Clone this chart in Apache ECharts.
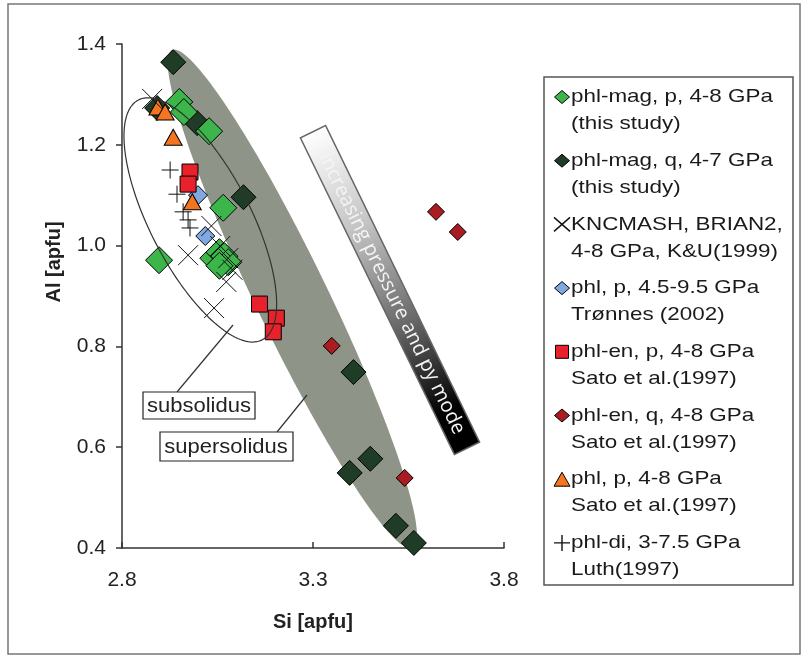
<!DOCTYPE html>
<html>
<head>
<meta charset="utf-8">
<script src="https://cdn.jsdelivr.net/npm/echarts@6/dist/echarts.min.js"></script>
<style>
html, body { margin: 0; padding: 0; background: #fff; }
#main { width: 807px; height: 660px; }
</style>
</head>
<body>
<div id="main"></div>
<script>
// Si / Al pairs
var phlMagP = [[2.950, 1.285], [2.962, 1.265], [3.028, 1.227], [3.065, 1.075], [2.897, 0.971],
               [3.039, 0.975], [3.055, 0.987], [3.068, 0.979], [3.078, 0.967], [3.055, 0.960]];
var phlMagQ = [[2.934, 1.364], [2.997, 1.243], [2.892, 1.273], [3.118, 1.096], [3.406, 0.749],
               [3.450, 0.577], [3.396, 0.549], [3.517, 0.444], [3.564, 0.410]];
var kncmash = [[2.879, 1.291], [2.973, 0.981], [3.034, 1.039], [3.057, 0.999], [3.078, 0.975],
               [3.089, 0.952], [3.073, 0.928], [3.041, 0.876]];
var phlTronnes = [[2.999, 1.100], [3.018, 1.019]];
var phlEnP = [[2.978, 1.146], [2.973, 1.122], [3.160, 0.884], [3.204, 0.856], [3.196, 0.829]];
var phlEnQ = [[3.622, 1.067], [3.679, 1.027], [3.349, 0.801], [3.540, 0.539]];
var phlSato = [[2.894, 1.275], [2.913, 1.265], [2.934, 1.215], [2.984, 1.087]];
var phlDi = [[2.926, 1.150], [2.944, 1.102], [2.960, 1.067], [2.973, 1.051], [2.978, 1.035]];

var xTicks = [2.8, 3.3, 3.8];
var yTicks = [0.4, 0.6, 0.8, 1.0, 1.2, 1.4];

var legendLines = [
    ['phl-mag, p, 4-8 GPa', '(this study)'],
    ['phl-mag, q, 4-7 GPa', '(this study)'],
    ['KNCMASH, BRIAN2,', '4-8 GPa, K&U(1999)'],
    ['phl, p, 4.5-9.5 GPa', 'Trønnes (2002)'],
    ['phl-en, p, 4-8 GPa', 'Sato et al.(1997)'],
    ['phl-en, q, 4-8 GPa', 'Sato et al.(1997)'],
    ['phl, p, 4-8 GPa', 'Sato et al.(1997)'],
    ['phl-di, 3-7.5 GPa', 'Luth(1997)']
];

// field outlines: centre + two conjugate half axes (data units)
var superCenter = [3.246, 0.894], superU = [0.315, -0.494], superV = [0.085, 0.031];
var subCenter = [3.005, 1.051], subU = [0.162, -0.238], subV = [0.117, 0.0456];

var cGreen = '#3cb54a', cDark = '#1f3d26', cBlue = '#7fa9e0', cRed = '#e8212b',
    cBrick = '#a91c22', cOrange = '#f47521';

var X_PATH = 'path://M0,0L10,10M10,0L0,10';
var PLUS_PATH = 'path://M5,0L5,10M0,5L10,5';

var myChart = echarts.init(document.getElementById('main'));

function ellipse(c, u, v, style) {
    return function (params, api) {
        var pts = [];
        for (var i = 0; i < 160; i++) {
            var t = i / 160 * Math.PI * 2;
            pts.push(api.coord([c[0] + u[0] * Math.cos(t) + v[0] * Math.sin(t),
                                c[1] + u[1] * Math.cos(t) + v[1] * Math.sin(t)]));
        }
        return { type: 'polygon', shape: { points: pts }, style: style };
    };
}

function scatter(name, data, symbol, size, color, border) {
    return {
        name: name,
        type: 'scatter',
        data: data,
        symbol: symbol,
        symbolSize: size,
        z: 3,
        silent: true,
        itemStyle: { color: color, borderColor: border || '#000', borderWidth: 1, opacity: 1 }
    };
}

// legend drawn by hand so the icon sits on the first line
var legendIcons = [
    { t: 'diamond', c: cGreen }, { t: 'diamond', c: cDark }, { t: 'x' }, { t: 'diamond', c: cBlue },
    { t: 'square', c: cRed }, { t: 'diamond', c: cBrick }, { t: 'triangle', c: cOrange }, { t: 'plus' }
];
var legendGraphics = [{
    type: 'rect', shape: { x: 544, y: 77, width: 249, height: 508 },
    style: { fill: '#fff', stroke: '#555', lineWidth: 1.5 }, z: 10
}];
legendLines.forEach(function (lines, i) {
    var y = 97 + i * 63.7, cx = 562;
    var ic = legendIcons[i], shape;
    if (ic.t === 'diamond') {
        shape = { type: 'polygon', shape: { points: [[cx - 7.5, y], [cx, y - 6.5], [cx + 7.5, y], [cx, y + 6.5]] },
                  style: { fill: ic.c, stroke: '#000', lineWidth: 1 } };
    } else if (ic.t === 'square') {
        shape = { type: 'rect', shape: { x: cx - 6.5, y: y - 6.5, width: 13, height: 13 },
                  style: { fill: ic.c, stroke: '#000', lineWidth: 1 } };
    } else if (ic.t === 'triangle') {
        shape = { type: 'polygon', shape: { points: [[cx - 8, y + 7], [cx, y - 7], [cx + 8, y + 7]] },
                  style: { fill: ic.c, stroke: '#000', lineWidth: 1 } };
    } else if (ic.t === 'x') {
        shape = { type: 'polyline', shape: { points: [[cx - 8, y - 7], [cx + 8, y + 7], [cx, y], [cx + 8, y - 7], [cx - 8, y + 7]] },
                  style: { stroke: '#111', lineWidth: 1.4, fill: null } };
    } else {
        shape = { type: 'polyline', shape: { points: [[cx - 8, y], [cx + 8, y], [cx, y], [cx, y - 8], [cx, y + 8]] },
                  style: { stroke: '#111', lineWidth: 1.4, fill: null } };
    }
    shape.z = 11;
    legendGraphics.push(shape);
    lines.forEach(function (txt, k) {
        legendGraphics.push({
            type: 'text', x: 571, y: y + k * 27, scaleX: 1.18, z: 11,
            style: { text: txt, font: '19px "Liberation Sans", Arial', fill: '#1a1a1a', verticalAlign: 'middle' }
        });
    });
});

var option = {
    backgroundColor: '#fff',
    animation: false,
    grid: { left: 122, right: 303, top: 44, bottom: 112 },
    xAxis: {
        type: 'value', min: 2.8, max: 3.8, interval: 0.5,
        name: 'Si [apfu]', nameLocation: 'middle', nameGap: 64,
        nameTextStyle: { fontFamily: 'Liberation Sans', fontSize: 20, fontWeight: 'bold', color: '#222' },
        axisLine: { onZero: false, lineStyle: { color: '#333', width: 1.5 } },
        axisTick: { inside: true, length: 6, lineStyle: { color: '#333', width: 1.5 } },
        axisLabel: { margin: 22, fontFamily: 'Liberation Sans', fontSize: 21, color: '#222',
                     formatter: function (v) { return xTicks.indexOf(+v.toFixed(1)) >= 0 ? v.toFixed(1) : ''; } },
        splitLine: { show: false }
    },
    yAxis: {
        type: 'value', min: 0.4, max: 1.4, interval: 0.2,
        name: 'Al [apfu]', nameLocation: 'middle', nameGap: 58, nameRotate: 90,
        nameTextStyle: { fontFamily: 'Liberation Sans', fontSize: 20, fontWeight: 'bold', color: '#222',
                         padding: [0, 0, 0, 68] },
        axisLine: { show: true, onZero: false, lineStyle: { color: '#333', width: 1.5 } },
        axisTick: { show: true, length: 6, lineStyle: { color: '#333', width: 1.5 } },
        axisLabel: { margin: 16, fontFamily: 'Liberation Sans', fontSize: 21, color: '#222',
                     formatter: function (v) { return yTicks.indexOf(+v.toFixed(1)) >= 0 ? v.toFixed(1) : ''; } },
        splitLine: { show: false }
    },
    series: [
        {
            type: 'custom', z: 1, silent: true, clip: false,
            data: [superCenter],
            renderItem: ellipse(superCenter, superU, superV, { fill: '#8e9488', stroke: null })
        },
        scatter('phl-mag, q, 4-7 GPa (this study)', phlMagQ, 'diamond', 25, cDark),
        scatter('phl-mag, p, 4-8 GPa (this study)', phlMagP, 'diamond', 27, cGreen),
        scatter('phl, p, 4.5-9.5 GPa Trønnes (2002)', phlTronnes, 'diamond', 19, cBlue),
        scatter('phl-en, p, 4-8 GPa Sato et al.(1997)', phlEnP, 'rect', 16, cRed),
        scatter('phl-en, q, 4-8 GPa Sato et al.(1997)', phlEnQ, 'diamond', 17, cBrick),
        scatter('phl, p, 4-8 GPa Sato et al.(1997)', phlSato, 'triangle', [18, 16], cOrange),
        scatter('KNCMASH, BRIAN2, 4-8 GPa, K&U(1999)', kncmash, X_PATH, 20, 'rgba(0,0,0,0)', '#111'),
        scatter('phl-di, 3-7.5 GPa Luth(1997)', phlDi, PLUS_PATH, 17, 'rgba(0,0,0,0)', '#111'),
        {
            type: 'custom', z: 5, silent: true, clip: false,
            data: [subCenter],
            renderItem: ellipse(subCenter, subU, subV, { fill: null, stroke: '#333', lineWidth: 1.2 })
        }
    ],
    graphic: [
        { type: 'rect', shape: { x: 8, y: 4, width: 792, height: 650 }, style: { fill: null, stroke: '#777', lineWidth: 1.5 }, z: 0 },
        // pressure bar
        {
            type: 'group', x: 390, y: 290, rotation: -1.118, z: 6,
            children: [
                {
                    type: 'rect', shape: { x: -176, y: -14, width: 352, height: 28 },
                    style: {
                        fill: new echarts.graphic.LinearGradient(0, 0, 1, 0, [
                            { offset: 0, color: '#ffffff' }, { offset: 0.3, color: '#c4c4c4' },
                            { offset: 0.6, color: '#6a6a6a' }, { offset: 0.88, color: '#000' }, { offset: 1, color: '#000' }
                        ]),
                        stroke: '#666', lineWidth: 1.5
                    }
                },
                {
                    type: 'text', x: 4, y: 0,
                    style: { text: 'increasing pressure and py mode', font: '20px "Open Sans"', fill: '#f4f4f4',
                             align: 'center', verticalAlign: 'middle' }
                }
            ]
        },
        // callouts
        { type: 'line', shape: { x1: 177, y1: 392, x2: 233, y2: 325 }, style: { stroke: '#333', lineWidth: 1.2 }, z: 6 },
        { type: 'rect', shape: { x: 143, y: 392, width: 112, height: 27 }, style: { fill: '#fff', stroke: '#222', lineWidth: 1.2 }, z: 6 },
        { type: 'text', x: 199, y: 406, z: 7, scaleX: 1.1,
          style: { text: 'subsolidus', font: '20px "Liberation Sans"', fill: '#222', align: 'center', verticalAlign: 'middle' } },
        { type: 'line', shape: { x1: 277, y1: 432, x2: 307, y2: 395 }, style: { stroke: '#333', lineWidth: 1.2 }, z: 6 },
        { type: 'rect', shape: { x: 160, y: 432, width: 133, height: 29 }, style: { fill: '#fff', stroke: '#222', lineWidth: 1.2 }, z: 6 },
        { type: 'text', x: 226, y: 447, z: 7, scaleX: 1.1,
          style: { text: 'supersolidus', font: '20px "Liberation Sans"', fill: '#222', align: 'center', verticalAlign: 'middle' } }
    ].concat(legendGraphics)
};
myChart.setOption(option);

window.addEventListener('resize', function () {
    myChart.resize();
});
</script>
</body>
</html>
